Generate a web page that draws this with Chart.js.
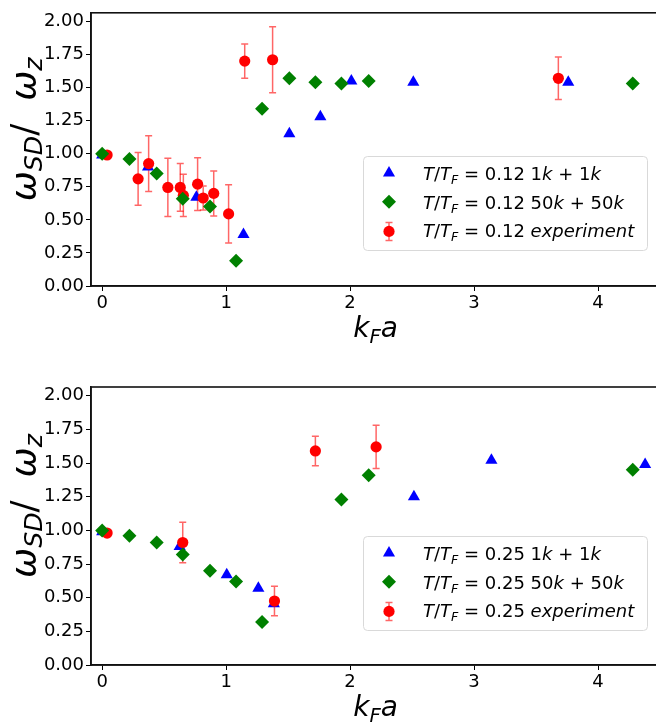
<!DOCTYPE html>
<html>
<head>
<meta charset="utf-8">
<script src="https://cdn.jsdelivr.net/npm/chart.js@4.4.0/dist/chart.umd.min.js"></script>
<style>
	html, body { margin: 0; padding: 0; background: #fff; overflow: hidden; width: 656px; height: 724px; }
	canvas { position: absolute; left: 0; }
	#top { top: 0; }
	#bottom { top: 362px; }
</style>
</head>
<body>
<canvas id="top" width="700" height="362"></canvas>
<canvas id="bottom" width="700" height="362"></canvas>
<script>
// ---- data, top panel (T/T_F = 0.12) ----
const kfa_1k_012 = [0.0, 0.37, 0.76, 1.14, 1.51, 1.76, 2.01, 2.51, 3.76];
const w_1k_012 = [0.99, 0.90, 0.67, 0.39, 1.15, 1.28, 1.55, 1.54, 1.54];
const kfa_50k_012 = [0.0, 0.22, 0.44, 0.65, 0.87, 1.08, 1.29, 1.51, 1.72, 1.93, 2.15, 4.28];
const w_50k_012 = [1.0, 0.96, 0.85, 0.66, 0.60, 0.19, 1.34, 1.57, 1.54, 1.53, 1.55, 1.53];
const kfa_exp_012 = [0.04, 0.29, 0.375, 0.53, 0.63, 0.655, 0.77, 0.815, 0.90, 1.02, 1.15, 1.375, 3.68];
const w_exp_012 = [0.99, 0.81, 0.925, 0.745, 0.745, 0.685, 0.77, 0.665, 0.70, 0.545, 1.70, 1.71, 1.57];
const err_exp_012 = [0.0, 0.20, 0.21, 0.22, 0.18, 0.16, 0.20, 0.09, 0.17, 0.22, 0.13, 0.25, 0.16];

// ---- data, bottom panel (T/T_F = 0.25) ----
const kfa_1k_025 = [0.0, 0.625, 1.005, 1.26, 1.385, 2.515, 3.14, 4.38];
const w_1k_025 = [0.99, 0.88, 0.67, 0.57, 0.455, 1.25, 1.52, 1.49];
const kfa_50k_025 = [0.0, 0.22, 0.44, 0.65, 0.87, 1.08, 1.29, 1.93, 2.15, 4.28];
const w_50k_025 = [1.0, 0.96, 0.91, 0.82, 0.70, 0.62, 0.32, 1.23, 1.41, 1.45];
const kfa_exp_025 = [0.04, 0.65, 1.39, 1.72, 2.21];
const w_exp_025 = [0.98, 0.91, 0.475, 1.59, 1.62];
const err_exp_025 = [0.0, 0.15, 0.11, 0.11, 0.16];

// ---- axes ----
const xTicks = [0, 1, 2, 3, 4];
const yTicks = [0, 0.25, 0.5, 0.75, 1.0, 1.25, 1.5, 1.75, 2.0];
const xRange = [-0.09, 4.5];
const yRange = [0, 2.065];
const temps = ['0.12', '0.25'];

const FONT = '"DejaVu Sans", Verdana, sans-serif';

function points(xs, ys) {
	return xs.map((x, i) => ({ x: x, y: ys[i] }));
}

// draw a run of [text, style] pieces; style: r roman, i italic, s subscript italic
function richWidth(ctx, segs, size) {
	let w = 0;
	segs.forEach(([t, st]) => {
		const sz = st === 's' ? size * 0.7 : size;
		ctx.font = (st === 'r' ? '' : 'italic ') + sz + 'px ' + FONT;
		w += ctx.measureText(t).width;
	});
	return w;
}
function drawRich(ctx, segs, x, y, size, drop) {
	drop = drop || 0.22;
	ctx.textAlign = 'left';
	ctx.textBaseline = 'alphabetic';
	segs.forEach(([t, st]) => {
		const sz = st === 's' ? size * 0.7 : size;
		ctx.font = (st === 'r' ? '' : 'italic ') + sz + 'px ' + FONT;
		ctx.fillText(t, x, st === 's' ? y + size * drop : y);
		x += ctx.measureText(t).width;
	});
}

function legendLabel(T, kind) {
	const head = [['T', 'i'], ['/', 'r'], ['T', 'i'], ['F', 's'], [' = ' + T + ' ', 'r']];
	if (kind === '1k') return head.concat([['1', 'r'], ['k', 'i'], [' + 1', 'r'], ['k', 'i']]);
	if (kind === '50k') return head.concat([['50', 'r'], ['k', 'i'], [' + 50', 'r'], ['k', 'i']]);
	return head.concat([['experiment', 'i']]);
}

function drawMarker(ctx, type, x, y) {
	ctx.beginPath();
	if (type === 'triangle') {
		ctx.fillStyle = '#0000ff';
		const r = 7;
		ctx.moveTo(x, y - r);
		ctx.lineTo(x + r * 0.866, y + r / 2);
		ctx.lineTo(x - r * 0.866, y + r / 2);
	} else if (type === 'diamond') {
		ctx.fillStyle = '#008000';
		const r = 7;
		ctx.moveTo(x, y - r);
		ctx.lineTo(x + r, y);
		ctx.lineTo(x, y + r);
		ctx.lineTo(x - r, y);
	} else {
		ctx.strokeStyle = 'rgba(255,0,0,0.6)';
		ctx.lineWidth = 1.5;
		ctx.moveTo(x, y - 8); ctx.lineTo(x, y + 10);
		ctx.moveTo(x - 3.5, y - 8); ctx.lineTo(x + 3.5, y - 8);
		ctx.moveTo(x - 3.5, y + 10); ctx.lineTo(x + 3.5, y + 10);
		ctx.stroke();
		ctx.beginPath();
		ctx.fillStyle = '#ff0000';
		ctx.arc(x, y + 1, 5.6, 0, Math.PI * 2);
	}
	ctx.closePath();
	ctx.fill();
}

const errorBars = {
	id: 'errorBars',
	beforeDatasetsDraw(chart) {
		const ctx = chart.ctx;
		const xs = chart.scales.x, ys = chart.scales.y;
		ctx.save();
		ctx.strokeStyle = 'rgba(255,0,0,0.6)';
		ctx.lineWidth = 1.5;
		chart.data.datasets.forEach(ds => {
			if (!ds.errors) return;
			ds.data.forEach((p, j) => {
				const e = ds.errors[j];
				if (!e) return;
				const px = xs.getPixelForValue(p.x);
				const y1 = ys.getPixelForValue(p.y - e);
				const y2 = ys.getPixelForValue(p.y + e);
				ctx.beginPath();
				ctx.moveTo(px, y1); ctx.lineTo(px, y2);
				ctx.moveTo(px - 3.5, y1); ctx.lineTo(px + 3.5, y1);
				ctx.moveTo(px - 3.5, y2); ctx.lineTo(px + 3.5, y2);
				ctx.stroke();
			});
		});
		ctx.restore();
	}
};

const decorations = {
	id: 'decorations',
	afterDraw(chart, args, opts) {
		const ctx = chart.ctx;
		const a = chart.chartArea;
		ctx.save();
		// frame
		ctx.strokeStyle = '#111';
		ctx.lineWidth = 1.6;
		ctx.strokeRect(a.left, a.top, a.right - a.left, a.bottom - a.top);
		ctx.fillStyle = '#000';
		// x title
		const xt = [['k', 'i'], ['F', 's'], ['a', 'i']];
		const wx = richWidth(ctx, xt, 28);
		drawRich(ctx, xt, (a.left + a.right) / 2 - wx / 2, a.bottom + 51, 28);
		// y title
		const yt = [['ω', 'i'], ['SD', 's'], ['/  ', 'r'], ['ω', 'i'], ['z', 's']];
		const wy = richWidth(ctx, yt, 36);
		ctx.translate(36, (a.top + a.bottom) / 2 - 20);
		ctx.rotate(-Math.PI / 2);
		drawRich(ctx, yt, -wy / 2, 0, 36, 0.16);
		ctx.setTransform(1, 0, 0, 1, 0, 0);
		// legend
		const bx = a.right - 297, bw = 284, bh = 94;
		const by = a.bottom - opts.legendBottom - bh;
		ctx.beginPath();
		ctx.roundRect(bx + 0.5, by + 0.5, bw, bh, 4);
		ctx.fillStyle = 'rgba(255,255,255,0.8)';
		ctx.fill();
		ctx.strokeStyle = '#d9d9d9';
		ctx.lineWidth = 1;
		ctx.stroke();
		const kinds = ['1k', '50k', 'exp'];
		const markers = ['triangle', 'diamond', 'circle'];
		kinds.forEach((k, i) => {
			const cy = by + 17 + i * 28.7;
			drawMarker(ctx, markers[i], bx + 26, cy);
			ctx.fillStyle = '#000';
			drawRich(ctx, legendLabel(opts.T, k), bx + 60, cy + 7, 18);
		});
		ctx.restore();
	}
};

function makeChart(id, T, sets, padTop, plotH, legendBottom) {
	const H = 362;
	return new Chart(document.getElementById(id), {
		type: 'scatter',
		data: {
			datasets: [
				{ data: points(sets[2], sets[3]), pointStyle: 'rectRot', pointRadius: 7, backgroundColor: '#008000', borderWidth: 0 },
				{ data: points(sets[4], sets[5]), errors: sets[6], pointStyle: 'circle', pointRadius: 5.6, backgroundColor: '#ff0000', borderWidth: 0 },
				{ data: points(sets[0], sets[1]), pointStyle: 'triangle', pointRadius: 7, backgroundColor: '#0000ff', borderWidth: 0 }
			]
		},
		options: {
			responsive: false,
			animation: false,
			events: [],
			layout: { padding: { left: 0, top: padTop, right: 40, bottom: 0 } },
			plugins: {
				legend: { display: false },
				tooltip: { enabled: false },
				decorations: { T: T, legendBottom: legendBottom }
			},
			scales: {
				x: {
					type: 'linear',
					min: xRange[0],
					max: xRange[1],
					afterBuildTicks: s => { s.ticks = xTicks.map(v => ({ value: v })); },
					afterFit: s => { s.height = H - padTop - plotH; },
					ticks: { color: '#000', font: { family: FONT, size: 18 }, padding: 2, maxRotation: 0, callback: v => String(v) },
					grid: { drawOnChartArea: false, drawTicks: true, tickLength: 5, tickColor: '#000', lineWidth: 1 },
					border: { display: true, color: '#111', width: 1.6 }
				},
				y: {
					type: 'linear',
					min: yRange[0],
					max: yRange[1],
					afterBuildTicks: s => { s.ticks = yTicks.map(v => ({ value: v })); },
					afterFit: s => { s.width = 91; },
					ticks: { color: '#000', font: { family: FONT, size: 18 }, padding: 2, callback: v => v.toFixed(2) },
					grid: { drawOnChartArea: false, drawTicks: true, tickLength: 5, tickColor: '#000', lineWidth: 1 },
					border: { display: true, color: '#111', width: 1.6 }
				}
			}
		},
		plugins: [errorBars, decorations]
	});
}

makeChart('top', temps[0],
	[kfa_1k_012, w_1k_012, kfa_50k_012, w_50k_012, kfa_exp_012, w_exp_012, err_exp_012],
	6, 280, 36);
makeChart('bottom', temps[1],
	[kfa_1k_025, w_1k_025, kfa_50k_025, w_50k_025, kfa_exp_025, w_exp_025, err_exp_025],
	25, 278, 35);
</script>
</body>
</html>
